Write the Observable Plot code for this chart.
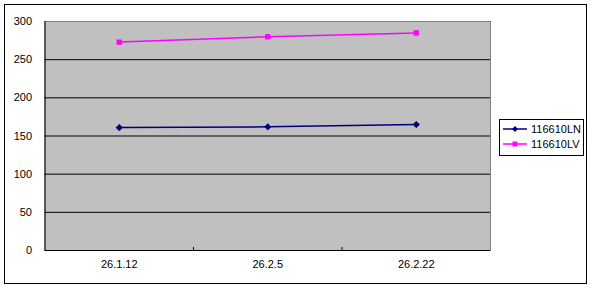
<!DOCTYPE html>
<html><head><meta charset="utf-8">
<script src="https://cdn.jsdelivr.net/npm/d3@7"></script>
<script src="https://cdn.jsdelivr.net/npm/@observablehq/plot@0.6"></script>
<style>
body{margin:0;background:#fff;}
#wrap{position:relative;width:592px;height:288px;overflow:hidden;font-family:"Liberation Sans",Arial,sans-serif;background:#fff;}
#border{position:absolute;left:4px;top:4px;width:583px;height:280px;border:1px solid #000;box-sizing:border-box;}
#chart{position:absolute;left:0;top:0;}
#legend{position:absolute;left:499px;top:119px;width:85px;height:37px;border:1px solid #000;box-sizing:border-box;background:#fff;font-size:11px;color:#000;}
.item{position:absolute;left:3px;height:14px;display:flex;align-items:center;}
.item svg{display:block;margin-right:4px;}
</style></head>
<body>
<div id="wrap"><div id="border"></div><div id="chart"></div><div id="legend"></div></div>
<script>
const categories = ["26.1.12", "26.2.5", "26.2.22"];
const seriesNames = ["116610LN", "116610LV"];
const ln = [161, 162, 165];
const lv = [273, 280, 285];
const yTicks = [0, 50, 100, 150, 200, 250, 300];
const colors = ["#000080", "#FF00FF"];

const idx = categories.map((c, i) => i);
const xDomain = [-0.5, categories.length - 0.5];
const separators = idx.slice(1).map(i => i - 0.5);
const grid = yTicks.filter(v => v > yTicks[0] && v < yTicks[yTicks.length - 1]);
const dLN = idx.map(i => ({x: i, y: ln[i]}));
const dLV = idx.map(i => ({x: i, y: lv[i]}));

const chart = Plot.plot({
  width: 592, height: 288,
  marginLeft: 44.5, marginTop: 21, marginRight: 102, marginBottom: 38,
  style: {fontFamily: '"Liberation Sans", Arial, sans-serif', fontSize: "11px", background: "transparent", color: "#000"},
  x: {domain: xDomain},
  y: {domain: [yTicks[0], yTicks[yTicks.length - 1]]},
  marks: [
    Plot.frame({fill: "#C0C0C0", stroke: "#808080"}),
    Plot.ruleY(grid, {stroke: "#000"}),
    Plot.ruleY([yTicks[0]], {stroke: "#000"}),
    Plot.ruleX([xDomain[0]], {stroke: "#000"}),
    Plot.ruleX(separators, {stroke: "#000", insetTop: 226}),
    Plot.axisY({ticks: yTicks, tickSize: 0, tickPadding: 13, label: null}),
    Plot.axisX({ticks: idx, tickFormat: i => categories[i], tickSize: 0, tickPadding: 10, label: null}),
    Plot.line(dLN, {x: "x", y: "y", stroke: colors[0], strokeWidth: 1.5}),
    Plot.dot(dLN, {x: "x", y: "y", symbol: "diamond2", r: 2.8, fill: colors[0], stroke: colors[0], strokeWidth: 1}),
    Plot.line(dLV, {x: "x", y: "y", stroke: colors[1], strokeWidth: 1.5}),
    Plot.dot(dLV, {x: "x", y: "y", symbol: "square", r: 3, fill: colors[1], stroke: "none"})
  ]
});
document.getElementById("chart").appendChild(chart);

const legend = document.getElementById("legend");
seriesNames.forEach((name, k) => {
  const item = document.createElement("div");
  item.className = "item";
  item.style.top = (k === 0 ? 2 : 17) + "px";
  const shape = k === 0
    ? `<polygon points="12,2 15,5 12,8 9,5" fill="${colors[k]}"/>`
    : `<rect x="9.5" y="2.5" width="5" height="5" fill="${colors[k]}"/>`;
  item.innerHTML = `<svg width="24" height="10"><line x1="0" x2="24" y1="5" y2="5" stroke="${colors[k]}" stroke-width="1.5"/>${shape}</svg><span>${name}</span>`;
  legend.appendChild(item);
});
</script>
</body></html>
